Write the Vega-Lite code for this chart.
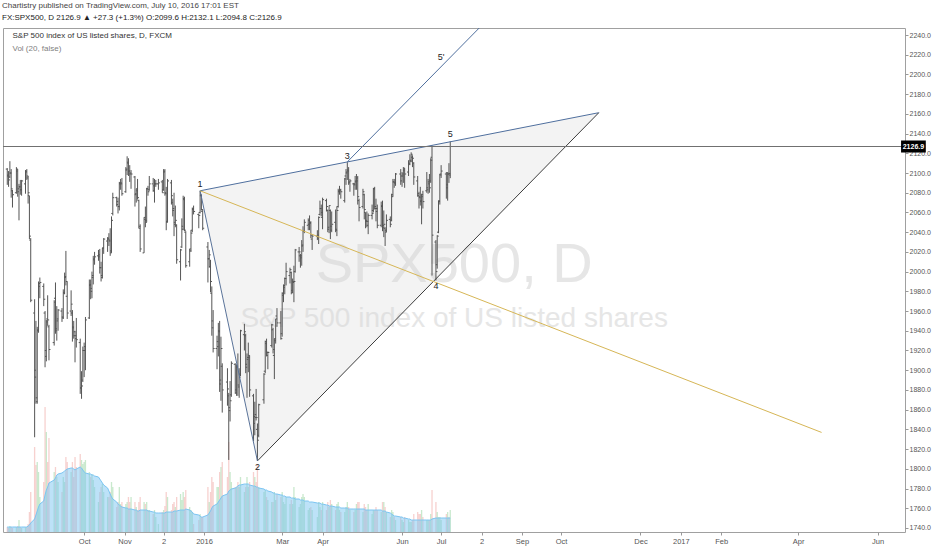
{
  "$schema": "https://vega.github.io/schema/vega-lite/v6.json",
  "width": 902,
  "height": 504,
  "autosize": {"type": "none"},
  "padding": {"left": 3, "top": 28, "right": 27, "bottom": 18},
  "background": "white",
  "config": {
    "font": "Liberation Sans, sans-serif",
    "view": {"stroke": "#a0a0a0", "strokeWidth": 1, "fill": "white"},
    "axis": {"labelOverlap": false, "labelFlush": false, "grid": false, "domain": false, "labelBound": false, "labelSeparation": 0}
  },
  "title": {
    "text": "Chartistry published on TradingView.com, July 10, 2016 17:01 EST",
    "subtitle": "FX:SPX500, D  2126.9 ▲ +27.3 (+1.3%)  O:2099.6  H:2132.1  L:2094.8  C:2126.9",
    "anchor": "start",
    "frame": "group",
    "dx": -1,
    "fontSize": 8,
    "fontWeight": "normal",
    "color": "#444",
    "subtitleFontSize": 8,
    "subtitleColor": "#222",
    "subtitlePadding": 4,
    "offset": 6
  },
  "datasets": {
    "bars": [
      {"d":"2015-08-03","o":2104,"h":2105,"l":2088,"c":2098,"v":5,"m":5},
      {"d":"2015-08-04","o":2097,"h":2102,"l":2086,"c":2093,"v":4,"m":5},
      {"d":"2015-08-05","o":2096,"h":2112,"l":2095,"c":2100,"v":6,"m":5},
      {"d":"2015-08-06","o":2100,"h":2104,"l":2075,"c":2084,"v":5,"m":5},
      {"d":"2015-08-07","o":2082,"h":2083,"l":2065,"c":2078,"v":4,"m":5},
      {"d":"2015-08-10","o":2080,"h":2106,"l":2079,"c":2104,"v":5,"m":5},
      {"d":"2015-08-11","o":2102,"h":2104,"l":2076,"c":2084,"v":6,"m":5},
      {"d":"2015-08-12","o":2081,"h":2089,"l":2052,"c":2086,"v":12,"m":5},
      {"d":"2015-08-13","o":2086,"h":2093,"l":2078,"c":2083,"v":5,"m":5},
      {"d":"2015-08-14","o":2083,"h":2093,"l":2077,"c":2092,"v":4,"m":5},
      {"d":"2015-08-17","o":2089,"h":2103,"l":2079,"c":2102,"v":5,"m":5},
      {"d":"2015-08-18","o":2101,"h":2104,"l":2093,"c":2097,"v":5,"m":5},
      {"d":"2015-08-19","o":2095,"h":2097,"l":2069,"c":2080,"v":8,"m":6},
      {"d":"2015-08-20","o":2077,"h":2077,"l":2033,"c":2036,"v":20,"m":7},
      {"d":"2015-08-21","o":2032,"h":2034,"l":1969,"c":1971,"v":40,"m":9},
      {"d":"2015-08-24","o":1958,"h":1972,"l":1832,"c":1893,"v":85,"m":13},
      {"d":"2015-08-25","o":1900,"h":1950,"l":1866,"c":1868,"v":67,"m":17},
      {"d":"2015-08-26","o":1872,"h":1944,"l":1866,"c":1941,"v":70,"m":21},
      {"d":"2015-08-27","o":1940,"h":1990,"l":1938,"c":1988,"v":60,"m":25},
      {"d":"2015-08-28","o":1985,"h":1994,"l":1973,"c":1989,"v":35,"m":28},
      {"d":"2015-08-31","o":1985,"h":1988,"l":1965,"c":1972,"v":50,"m":31},
      {"d":"2015-09-01","o":1958,"h":1960,"l":1903,"c":1914,"v":125,"m":37},
      {"d":"2015-09-02","o":1920,"h":1951,"l":1909,"c":1949,"v":100,"m":42},
      {"d":"2015-09-03","o":1952,"h":1976,"l":1945,"c":1951,"v":70,"m":45},
      {"d":"2015-09-04","o":1944,"h":1946,"l":1910,"c":1921,"v":94,"m":49},
      {"d":"2015-09-08","o":1928,"h":1971,"l":1925,"c":1969,"v":60,"m":52},
      {"d":"2015-09-09","o":1973,"h":1989,"l":1937,"c":1942,"v":65,"m":54},
      {"d":"2015-09-10","o":1940,"h":1965,"l":1930,"c":1952,"v":55,"m":57},
      {"d":"2015-09-11","o":1950,"h":1962,"l":1940,"c":1961,"v":50,"m":58},
      {"d":"2015-09-14","o":1960,"h":1963,"l":1949,"c":1953,"v":40,"m":59},
      {"d":"2015-09-15","o":1954,"h":1982,"l":1952,"c":1978,"v":55,"m":60},
      {"d":"2015-09-16","o":1979,"h":1999,"l":1977,"c":1995,"v":50,"m":61},
      {"d":"2015-09-17","o":1994,"h":2021,"l":1986,"c":1990,"v":75,"m":62},
      {"d":"2015-09-18","o":1975,"h":1990,"l":1952,"c":1958,"v":70,"m":63},
      {"d":"2015-09-21","o":1960,"h":1981,"l":1955,"c":1967,"v":60,"m":64},
      {"d":"2015-09-22","o":1958,"h":1961,"l":1929,"c":1943,"v":70,"m":64},
      {"d":"2015-09-23","o":1944,"h":1950,"l":1932,"c":1939,"v":55,"m":63},
      {"d":"2015-09-24","o":1935,"h":1940,"l":1908,"c":1932,"v":75,"m":62},
      {"d":"2015-09-25","o":1935,"h":1953,"l":1923,"c":1931,"v":65,"m":63},
      {"d":"2015-09-28","o":1928,"h":1932,"l":1876,"c":1882,"v":78,"m":65},
      {"d":"2015-09-29","o":1882,"h":1899,"l":1871,"c":1884,"v":72,"m":64},
      {"d":"2015-09-30","o":1890,"h":1924,"l":1888,"c":1920,"v":68,"m":62},
      {"d":"2015-10-01","o":1920,"h":1928,"l":1893,"c":1924,"v":70,"m":60},
      {"d":"2015-10-02","o":1920,"h":1954,"l":1900,"c":1951,"v":72,"m":59},
      {"d":"2015-10-05","o":1953,"h":1992,"l":1952,"c":1987,"v":60,"m":58},
      {"d":"2015-10-06","o":1986,"h":1992,"l":1972,"c":1980,"v":55,"m":58},
      {"d":"2015-10-07","o":1983,"h":2000,"l":1973,"c":1996,"v":58,"m":57},
      {"d":"2015-10-08","o":1994,"h":2016,"l":1987,"c":2013,"v":52,"m":57},
      {"d":"2015-10-09","o":2012,"h":2020,"l":2007,"c":2015,"v":45,"m":56},
      {"d":"2015-10-12","o":2016,"h":2022,"l":2011,"c":2017,"v":30,"m":55},
      {"d":"2015-10-13","o":2015,"h":2023,"l":1998,"c":2004,"v":40,"m":53},
      {"d":"2015-10-14","o":2004,"h":2010,"l":1990,"c":1994,"v":45,"m":51},
      {"d":"2015-10-15","o":1996,"h":2024,"l":1993,"c":2024,"v":48,"m":49},
      {"d":"2015-10-16","o":2024,"h":2034,"l":2018,"c":2033,"v":40,"m":47},
      {"d":"2015-10-19","o":2031,"h":2035,"l":2020,"c":2034,"v":35,"m":44},
      {"d":"2015-10-20","o":2033,"h":2039,"l":2026,"c":2031,"v":35,"m":41},
      {"d":"2015-10-21","o":2032,"h":2044,"l":2016,"c":2019,"v":40,"m":38},
      {"d":"2015-10-22","o":2021,"h":2056,"l":2019,"c":2052,"v":50,"m":35},
      {"d":"2015-10-23","o":2059,"h":2080,"l":2057,"c":2075,"v":45,"m":33},
      {"d":"2015-10-26","o":2075,"h":2076,"l":2066,"c":2071,"v":25,"m":30},
      {"d":"2015-10-27","o":2068,"h":2075,"l":2059,"c":2066,"v":30,"m":28},
      {"d":"2015-10-28","o":2066,"h":2091,"l":2062,"c":2090,"v":45,"m":27},
      {"d":"2015-10-29","o":2089,"h":2094,"l":2083,"c":2089,"v":28,"m":26},
      {"d":"2015-10-30","o":2090,"h":2095,"l":2077,"c":2079,"v":30,"m":25},
      {"d":"2015-11-02","o":2081,"h":2106,"l":2080,"c":2104,"v":28,"m":24},
      {"d":"2015-11-03","o":2103,"h":2117,"l":2098,"c":2110,"v":30,"m":24},
      {"d":"2015-11-04","o":2111,"h":2115,"l":2097,"c":2102,"v":35,"m":23},
      {"d":"2015-11-05","o":2102,"h":2108,"l":2091,"c":2100,"v":30,"m":23},
      {"d":"2015-11-06","o":2099,"h":2103,"l":2084,"c":2099,"v":35,"m":23},
      {"d":"2015-11-09","o":2096,"h":2097,"l":2066,"c":2079,"v":30,"m":22},
      {"d":"2015-11-10","o":2078,"h":2084,"l":2070,"c":2082,"v":25,"m":22},
      {"d":"2015-11-11","o":2084,"h":2094,"l":2073,"c":2075,"v":22,"m":21},
      {"d":"2015-11-12","o":2072,"h":2073,"l":2044,"c":2046,"v":30,"m":21},
      {"d":"2015-11-13","o":2044,"h":2048,"l":2020,"c":2023,"v":35,"m":22},
      {"d":"2015-11-16","o":2019,"h":2055,"l":2019,"c":2053,"v":30,"m":22},
      {"d":"2015-11-17","o":2055,"h":2066,"l":2045,"c":2050,"v":28,"m":22},
      {"d":"2015-11-18","o":2052,"h":2085,"l":2050,"c":2084,"v":30,"m":22},
      {"d":"2015-11-19","o":2084,"h":2087,"l":2077,"c":2081,"v":22,"m":21},
      {"d":"2015-11-20","o":2083,"h":2097,"l":2082,"c":2089,"v":22,"m":21},
      {"d":"2015-11-23","o":2089,"h":2095,"l":2081,"c":2087,"v":18,"m":20},
      {"d":"2015-11-24","o":2082,"h":2094,"l":2070,"c":2089,"v":22,"m":20},
      {"d":"2015-11-25","o":2089,"h":2093,"l":2086,"c":2089,"v":15,"m":19},
      {"d":"2015-11-27","o":2089,"h":2094,"l":2083,"c":2090,"v":8,"m":19},
      {"d":"2015-11-30","o":2091,"h":2093,"l":2080,"c":2080,"v":20,"m":19},
      {"d":"2015-12-01","o":2083,"h":2104,"l":2082,"c":2102,"v":22,"m":19},
      {"d":"2015-12-02","o":2101,"h":2104,"l":2077,"c":2079,"v":26,"m":19},
      {"d":"2015-12-03","o":2080,"h":2086,"l":2042,"c":2050,"v":40,"m":20},
      {"d":"2015-12-04","o":2051,"h":2094,"l":2050,"c":2092,"v":35,"m":20},
      {"d":"2015-12-07","o":2090,"h":2093,"l":2068,"c":2077,"v":22,"m":20},
      {"d":"2015-12-08","o":2070,"h":2074,"l":2056,"c":2064,"v":28,"m":20},
      {"d":"2015-12-09","o":2062,"h":2080,"l":2036,"c":2048,"v":30,"m":21},
      {"d":"2015-12-10","o":2050,"h":2067,"l":2045,"c":2052,"v":25,"m":21},
      {"d":"2015-12-11","o":2047,"h":2048,"l":2008,"c":2012,"v":35,"m":21},
      {"d":"2015-12-14","o":2010,"h":2023,"l":1991,"c":2022,"v":38,"m":22},
      {"d":"2015-12-15","o":2025,"h":2054,"l":2024,"c":2043,"v":32,"m":22},
      {"d":"2015-12-16","o":2046,"h":2077,"l":2042,"c":2073,"v":40,"m":22},
      {"d":"2015-12-17","o":2074,"h":2076,"l":2041,"c":2042,"v":35,"m":22},
      {"d":"2015-12-18","o":2040,"h":2041,"l":2004,"c":2006,"v":42,"m":23},
      {"d":"2015-12-21","o":2010,"h":2023,"l":2005,"c":2021,"v":25,"m":22},
      {"d":"2015-12-22","o":2023,"h":2042,"l":2020,"c":2039,"v":22,"m":21},
      {"d":"2015-12-23","o":2042,"h":2065,"l":2040,"c":2064,"v":20,"m":20},
      {"d":"2015-12-24","o":2063,"h":2067,"l":2058,"c":2061,"v":8,"m":18},
      {"d":"2015-12-28","o":2058,"h":2059,"l":2044,"c":2057,"v":12,"m":17},
      {"d":"2015-12-29","o":2060,"h":2082,"l":2059,"c":2078,"v":18,"m":16},
      {"d":"2015-12-30","o":2077,"h":2078,"l":2062,"c":2063,"v":15,"m":15},
      {"d":"2015-12-31","o":2061,"h":2063,"l":2042,"c":2044,"v":15,"m":15},
      {"d":"2016-01-04","o":2025,"h":2030,"l":1989,"c":2013,"v":45,"m":17},
      {"d":"2016-01-05","o":2013,"h":2022,"l":2004,"c":2017,"v":30,"m":19},
      {"d":"2016-01-06","o":2005,"h":2012,"l":1979,"c":1990,"v":40,"m":21},
      {"d":"2016-01-07","o":1978,"h":1985,"l":1935,"c":1943,"v":55,"m":24},
      {"d":"2016-01-08","o":1950,"h":1961,"l":1918,"c":1922,"v":50,"m":26},
      {"d":"2016-01-11","o":1922,"h":1935,"l":1901,"c":1924,"v":45,"m":28},
      {"d":"2016-01-12","o":1929,"h":1948,"l":1914,"c":1939,"v":45,"m":30},
      {"d":"2016-01-13","o":1940,"h":1950,"l":1878,"c":1890,"v":60,"m":32},
      {"d":"2016-01-14","o":1886,"h":1934,"l":1869,"c":1922,"v":65,"m":34},
      {"d":"2016-01-15","o":1904,"h":1907,"l":1857,"c":1880,"v":70,"m":36},
      {"d":"2016-01-19","o":1888,"h":1902,"l":1864,"c":1881,"v":55,"m":38},
      {"d":"2016-01-20","o":1874,"h":1877,"l":1809,"c":1859,"v":90,"m":41},
      {"d":"2016-01-21","o":1862,"h":1889,"l":1848,"c":1869,"v":60,"m":42},
      {"d":"2016-01-22","o":1875,"h":1909,"l":1873,"c":1907,"v":50,"m":43},
      {"d":"2016-01-25","o":1906,"h":1907,"l":1876,"c":1877,"v":45,"m":44},
      {"d":"2016-01-26","o":1880,"h":1906,"l":1874,"c":1904,"v":45,"m":45},
      {"d":"2016-01-27","o":1903,"h":1917,"l":1874,"c":1883,"v":50,"m":46},
      {"d":"2016-01-28","o":1885,"h":1902,"l":1872,"c":1893,"v":45,"m":47},
      {"d":"2016-01-29","o":1896,"h":1941,"l":1894,"c":1940,"v":55,"m":47},
      {"d":"2016-02-01","o":1936,"h":1947,"l":1920,"c":1939,"v":40,"m":48},
      {"d":"2016-02-02","o":1935,"h":1937,"l":1897,"c":1903,"v":45,"m":48},
      {"d":"2016-02-03","o":1906,"h":1917,"l":1872,"c":1913,"v":55,"m":48},
      {"d":"2016-02-04","o":1911,"h":1928,"l":1898,"c":1915,"v":45,"m":48},
      {"d":"2016-02-05","o":1913,"h":1915,"l":1873,"c":1880,"v":50,"m":47},
      {"d":"2016-02-08","o":1874,"h":1876,"l":1828,"c":1853,"v":60,"m":46},
      {"d":"2016-02-09","o":1846,"h":1868,"l":1834,"c":1852,"v":55,"m":46},
      {"d":"2016-02-10","o":1855,"h":1881,"l":1849,"c":1852,"v":50,"m":45},
      {"d":"2016-02-11","o":1840,"h":1846,"l":1808,"c":1829,"v":68,"m":45},
      {"d":"2016-02-12","o":1834,"h":1866,"l":1832,"c":1865,"v":45,"m":44},
      {"d":"2016-02-16","o":1870,"h":1897,"l":1866,"c":1896,"v":40,"m":43},
      {"d":"2016-02-17","o":1899,"h":1930,"l":1897,"c":1927,"v":42,"m":42},
      {"d":"2016-02-18","o":1929,"h":1932,"l":1914,"c":1918,"v":35,"m":42},
      {"d":"2016-02-19","o":1915,"h":1919,"l":1901,"c":1918,"v":32,"m":41},
      {"d":"2016-02-22","o":1925,"h":1947,"l":1923,"c":1946,"v":30,"m":40},
      {"d":"2016-02-23","o":1941,"h":1943,"l":1917,"c":1921,"v":30,"m":39},
      {"d":"2016-02-24","o":1915,"h":1932,"l":1891,"c":1930,"v":40,"m":39},
      {"d":"2016-02-25","o":1932,"h":1952,"l":1927,"c":1952,"v":32,"m":38},
      {"d":"2016-02-26","o":1955,"h":1963,"l":1944,"c":1948,"v":38,"m":38},
      {"d":"2016-02-29","o":1948,"h":1960,"l":1931,"c":1932,"v":35,"m":37},
      {"d":"2016-03-01","o":1937,"h":1979,"l":1934,"c":1978,"v":40,"m":37},
      {"d":"2016-03-02","o":1976,"h":1987,"l":1969,"c":1986,"v":30,"m":36},
      {"d":"2016-03-03","o":1984,"h":1994,"l":1977,"c":1993,"v":28,"m":36},
      {"d":"2016-03-04","o":1993,"h":2009,"l":1986,"c":2000,"v":35,"m":35},
      {"d":"2016-03-07","o":1996,"h":2004,"l":1988,"c":2002,"v":28,"m":35},
      {"d":"2016-03-08","o":1999,"h":2000,"l":1977,"c":1979,"v":32,"m":34},
      {"d":"2016-03-09","o":1981,"h":1993,"l":1978,"c":1989,"v":28,"m":34},
      {"d":"2016-03-10","o":1990,"h":2006,"l":1969,"c":1990,"v":45,"m":34},
      {"d":"2016-03-11","o":2000,"h":2023,"l":1999,"c":2022,"v":35,"m":33},
      {"d":"2016-03-14","o":2020,"h":2025,"l":2010,"c":2020,"v":25,"m":33},
      {"d":"2016-03-15","o":2016,"h":2018,"l":2004,"c":2016,"v":28,"m":32},
      {"d":"2016-03-16","o":2014,"h":2032,"l":2006,"c":2027,"v":35,"m":32},
      {"d":"2016-03-17","o":2026,"h":2046,"l":2020,"c":2041,"v":38,"m":32},
      {"d":"2016-03-18","o":2041,"h":2053,"l":2039,"c":2050,"v":35,"m":31},
      {"d":"2016-03-21","o":2047,"h":2054,"l":2042,"c":2052,"v":22,"m":31},
      {"d":"2016-03-22","o":2048,"h":2057,"l":2042,"c":2050,"v":24,"m":30},
      {"d":"2016-03-23","o":2049,"h":2051,"l":2034,"c":2037,"v":25,"m":30},
      {"d":"2016-03-24","o":2033,"h":2037,"l":2022,"c":2036,"v":22,"m":30},
      {"d":"2016-03-28","o":2036,"h":2042,"l":2032,"c":2037,"v":15,"m":29},
      {"d":"2016-03-29","o":2034,"h":2056,"l":2028,"c":2055,"v":30,"m":29},
      {"d":"2016-03-30","o":2058,"h":2072,"l":2057,"c":2064,"v":25,"m":29},
      {"d":"2016-03-31","o":2064,"h":2068,"l":2056,"c":2060,"v":22,"m":28},
      {"d":"2016-04-01","o":2055,"h":2075,"l":2043,"c":2073,"v":30,"m":28},
      {"d":"2016-04-04","o":2072,"h":2074,"l":2061,"c":2066,"v":22,"m":27},
      {"d":"2016-04-05","o":2062,"h":2063,"l":2040,"c":2045,"v":30,"m":27},
      {"d":"2016-04-06","o":2043,"h":2067,"l":2039,"c":2067,"v":25,"m":26},
      {"d":"2016-04-07","o":2062,"h":2063,"l":2033,"c":2042,"v":32,"m":26},
      {"d":"2016-04-08","o":2046,"h":2061,"l":2040,"c":2048,"v":28,"m":26},
      {"d":"2016-04-11","o":2050,"h":2063,"l":2040,"c":2042,"v":22,"m":25},
      {"d":"2016-04-12","o":2043,"h":2066,"l":2036,"c":2062,"v":28,"m":25},
      {"d":"2016-04-13","o":2066,"h":2084,"l":2065,"c":2082,"v":30,"m":25},
      {"d":"2016-04-14","o":2081,"h":2087,"l":2078,"c":2083,"v":22,"m":25},
      {"d":"2016-04-15","o":2082,"h":2084,"l":2074,"c":2081,"v":20,"m":24},
      {"d":"2016-04-18","o":2072,"h":2095,"l":2070,"c":2094,"v":20,"m":24},
      {"d":"2016-04-19","o":2097,"h":2104,"l":2088,"c":2101,"v":25,"m":24},
      {"d":"2016-04-20","o":2100,"h":2111,"l":2093,"c":2102,"v":30,"m":24},
      {"d":"2016-04-21","o":2103,"h":2106,"l":2088,"c":2091,"v":25,"m":23},
      {"d":"2016-04-22","o":2090,"h":2094,"l":2081,"c":2092,"v":22,"m":23},
      {"d":"2016-04-25","o":2089,"h":2090,"l":2077,"c":2088,"v":20,"m":23},
      {"d":"2016-04-26","o":2089,"h":2097,"l":2083,"c":2092,"v":22,"m":23},
      {"d":"2016-04-27","o":2091,"h":2099,"l":2083,"c":2095,"v":28,"m":23},
      {"d":"2016-04-28","o":2092,"h":2097,"l":2068,"c":2076,"v":30,"m":23},
      {"d":"2016-04-29","o":2072,"h":2074,"l":2051,"c":2065,"v":30,"m":23},
      {"d":"2016-05-02","o":2066,"h":2084,"l":2064,"c":2081,"v":20,"m":23},
      {"d":"2016-05-03","o":2078,"h":2079,"l":2053,"c":2063,"v":28,"m":23},
      {"d":"2016-05-04","o":2060,"h":2060,"l":2044,"c":2051,"v":25,"m":22},
      {"d":"2016-05-05","o":2052,"h":2061,"l":2045,"c":2051,"v":22,"m":22},
      {"d":"2016-05-06","o":2047,"h":2059,"l":2038,"c":2057,"v":28,"m":22},
      {"d":"2016-05-09","o":2057,"h":2068,"l":2053,"c":2059,"v":18,"m":22},
      {"d":"2016-05-10","o":2062,"h":2085,"l":2060,"c":2084,"v":22,"m":22},
      {"d":"2016-05-11","o":2084,"h":2086,"l":2063,"c":2064,"v":22,"m":22},
      {"d":"2016-05-12","o":2066,"h":2074,"l":2051,"c":2064,"v":25,"m":22},
      {"d":"2016-05-13","o":2061,"h":2068,"l":2044,"c":2047,"v":22,"m":22},
      {"d":"2016-05-16","o":2047,"h":2071,"l":2045,"c":2067,"v":20,"m":22},
      {"d":"2016-05-17","o":2066,"h":2072,"l":2041,"c":2047,"v":30,"m":21},
      {"d":"2016-05-18","o":2045,"h":2062,"l":2035,"c":2048,"v":30,"m":21},
      {"d":"2016-05-19","o":2044,"h":2045,"l":2026,"c":2040,"v":25,"m":21},
      {"d":"2016-05-20","o":2042,"h":2058,"l":2040,"c":2052,"v":20,"m":20},
      {"d":"2016-05-23","o":2053,"h":2056,"l":2045,"c":2048,"v":15,"m":19},
      {"d":"2016-05-24","o":2052,"h":2079,"l":2051,"c":2076,"v":22,"m":18},
      {"d":"2016-05-25","o":2078,"h":2094,"l":2076,"c":2091,"v":20,"m":17},
      {"d":"2016-05-26","o":2091,"h":2094,"l":2085,"c":2090,"v":15,"m":16},
      {"d":"2016-05-27","o":2090,"h":2100,"l":2087,"c":2099,"v":12,"m":16},
      {"d":"2016-05-31","o":2099,"h":2104,"l":2088,"c":2097,"v":15,"m":15},
      {"d":"2016-06-01","o":2092,"h":2101,"l":2086,"c":2099,"v":12,"m":15},
      {"d":"2016-06-02","o":2097,"h":2106,"l":2090,"c":2105,"v":10,"m":14},
      {"d":"2016-06-03","o":2103,"h":2105,"l":2085,"c":2099,"v":15,"m":14},
      {"d":"2016-06-06","o":2101,"h":2113,"l":2097,"c":2109,"v":12,"m":13},
      {"d":"2016-06-07","o":2110,"h":2119,"l":2108,"c":2112,"v":10,"m":13},
      {"d":"2016-06-08","o":2113,"h":2121,"l":2111,"c":2119,"v":10,"m":12},
      {"d":"2016-06-09","o":2116,"h":2118,"l":2106,"c":2115,"v":12,"m":12},
      {"d":"2016-06-10","o":2110,"h":2111,"l":2088,"c":2096,"v":18,"m":12},
      {"d":"2016-06-13","o":2092,"h":2097,"l":2076,"c":2079,"v":20,"m":12},
      {"d":"2016-06-14","o":2077,"h":2081,"l":2064,"c":2075,"v":18,"m":12},
      {"d":"2016-06-15","o":2076,"h":2086,"l":2067,"c":2072,"v":18,"m":12},
      {"d":"2016-06-16","o":2071,"h":2079,"l":2048,"c":2078,"v":22,"m":12},
      {"d":"2016-06-17","o":2076,"h":2082,"l":2064,"c":2071,"v":15,"m":12},
      {"d":"2016-06-20","o":2082,"h":2101,"l":2080,"c":2083,"v":12,"m":12},
      {"d":"2016-06-21","o":2085,"h":2094,"l":2079,"c":2089,"v":12,"m":12},
      {"d":"2016-06-22","o":2091,"h":2099,"l":2080,"c":2085,"v":12,"m":12},
      {"d":"2016-06-23","o":2092,"h":2115,"l":2090,"c":2113,"v":18,"m":12},
      {"d":"2016-06-24","o":2116,"h":2128,"l":1996,"c":2037,"v":42,"m":13},
      {"d":"2016-06-27","o":2030,"h":2032,"l":1991,"c":2000,"v":30,"m":14},
      {"d":"2016-06-28","o":2007,"h":2037,"l":2003,"c":2036,"v":20,"m":14},
      {"d":"2016-06-29","o":2040,"h":2072,"l":2039,"c":2071,"v":15,"m":14},
      {"d":"2016-06-30","o":2072,"h":2099,"l":2068,"c":2098,"v":15,"m":14},
      {"d":"2016-07-01","o":2099,"h":2108,"l":2095,"c":2102,"v":12,"m":14},
      {"d":"2016-07-05","o":2099,"h":2101,"l":2074,"c":2088,"v":18,"m":14},
      {"d":"2016-07-06","o":2085,"h":2101,"l":2072,"c":2099,"v":20,"m":14},
      {"d":"2016-07-07","o":2099,"h":2110,"l":2090,"c":2098,"v":15,"m":14},
      {"d":"2016-07-08","o":2099.6,"h":2132.1,"l":2094.8,"c":2126.9,"v":22,"m":14}
    ],
    "tri": [
      {"d":"2015-12-29","hi":2082,"lo":2082},
      {"d":"2016-02-11","hi":2093.4,"lo":1808},
      {"d":"2016-10-30","hi":2161.2,"lo":2161.2}
    ],
    "segs": [
      {"id":"upper","d":"2015-12-29","p":2082},
      {"id":"upper","d":"2016-10-30","p":2161.2},
      {"id":"lower","d":"2016-02-11","p":1808},
      {"id":"lower","d":"2016-10-30","p":2161.2},
      {"id":"leg","d":"2015-12-29","p":2082},
      {"id":"leg","d":"2016-02-11","p":1808},
      {"id":"yellow","d":"2015-12-29","p":2082},
      {"id":"yellow","d":"2017-04-19","p":1836.9}
    ],
    "five": [
      {"d":"2016-04-20","p":2111.3},
      {"d":"2016-08-06","p":2256.2}
    ],
    "above": [
      {"d":"2015-12-29","p":2082,"t":"1"},
      {"d":"2016-04-20","p":2110,"t":"3"},
      {"d":"2016-07-08","p":2132.1,"t":"5"},
      {"d":"2016-07-01","p":2211,"t":"5'"}
    ],
    "below": [
      {"d":"2016-02-11","p":1808,"t":"2"},
      {"d":"2016-06-27","p":1991,"t":"4"}
    ]
  },
  "layer": [
    {
      "layer": [
        {
          "data": {"values": [{"d":"2016-07-11","p":1989.5,"t":"SPX500, D"}]},
          "mark": {"type": "text", "fontSize": 56, "color": "#e6e6e6", "align": "center", "baseline": "alphabetic"},
          "encoding": {
            "x": {"field":"d","type":"temporal","scale":{"type":"utc","domain":[{"year":2015,"month":8,"date":3,"hours":13,"minutes":25,"utc":true},{"year":2017,"month":6,"date":18,"hours":4,"minutes":34,"utc":true}]},
              "axis":{"values":[
                {"year":2015,"month":10,"date":1,"utc":true},{"year":2015,"month":11,"date":1,"utc":true},{"year":2015,"month":12,"date":1,"utc":true},
                {"year":2016,"month":1,"date":1,"utc":true},{"year":2016,"month":3,"date":1,"utc":true},{"year":2016,"month":4,"date":1,"utc":true},
                {"year":2016,"month":6,"date":1,"utc":true},{"year":2016,"month":7,"date":1,"utc":true},{"year":2016,"month":8,"date":1,"utc":true},
                {"year":2016,"month":9,"date":1,"utc":true},{"year":2016,"month":10,"date":1,"utc":true},{"year":2016,"month":12,"date":1,"utc":true},
                {"year":2017,"month":1,"date":1,"utc":true},{"year":2017,"month":2,"date":1,"utc":true},{"year":2017,"month":4,"date":1,"utc":true},
                {"year":2017,"month":6,"date":1,"utc":true}],
                "labelExpr": "utcmonth(datum.value) == 0 ? '' + utcyear(datum.value) : ((utcmonth(datum.value) == 11 && utcyear(datum.value) == 2015) || (utcmonth(datum.value) == 7 && utcyear(datum.value) == 2016)) ? '2' : utcFormat(datum.value, '%b')",
                "labelFontSize": 7.5, "labelColor": "#555", "tickColor": "#999", "tickSize": 3, "labelPadding": 2},
              "title":null},
            "y": {"field":"p","type":"quantitative","scale":{"domain":[1735.9,2247.1],"nice":false,"zero":false},"axis":null,"title":null},
            "text": {"field":"t"}
          }
        },
        {
          "data": {"values": [{"d":"2016-07-11","p":1944,"t":"S&P 500 index of US listed shares"}]},
          "mark": {"type": "text", "fontSize": 28, "color": "#e6e6e6", "align": "center", "baseline": "alphabetic"},
          "encoding": {
            "x": {"field":"d","type":"temporal","title":null},
            "y": {"field":"p","type":"quantitative","axis":null,"title":null},
            "text": {"field":"t"}
          }
        },
        {
          "data": {"name": "tri"},
          "mark": {"type": "area", "color": "#d8d8d8", "opacity": 0.3},
          "encoding": {
            "x": {"field":"d","type":"temporal","title":null},
            "y": {"field":"hi","type":"quantitative","axis":null,"title":null},
            "y2": {"field":"lo"}
          }
        }
      ]
    },
    {
      "layer": [
        {
          "data": {"name": "bars"},
          "mark": {"type": "bar", "width": 1.3, "opacity": 0.5},
          "encoding": {
            "x": {"field":"d","type":"temporal","title":null},
            "y": {"field":"v","type":"quantitative","scale":{"domain":[0,504],"nice":false},"axis":null,"title":null},
            "color": {"condition": {"test": "datum.c >= datum.o", "value": "#93d39b"}, "value": "#f0a3a0"}
          }
        },
        {
          "data": {"name": "bars"},
          "mark": {"type": "area", "color": "#7cc5f2", "opacity": 0.5, "line": {"color": "#7cc5f2", "strokeWidth": 1}},
          "encoding": {
            "x": {"field":"d","type":"temporal","title":null},
            "y": {"field":"m","type":"quantitative","axis":null,"title":null}
          }
        }
      ]
    },
    {
      "layer": [
        {
          "data": {"name": "bars"},
          "mark": {"type": "rule", "color": "#555555", "strokeWidth": 1},
          "encoding": {
            "x": {"field":"d","type":"temporal","title":null},
            "y": {"field":"l","type":"quantitative","scale":{"domain":[1735.9,2247.1],"nice":false,"zero":false},"axis":null,"title":null},
            "y2": {"field":"h"}
          }
        },
        {
          "data": {"name": "bars"},
          "mark": {"type": "rule", "color": "#555555", "strokeWidth": 1, "xOffset": -1.5, "x2Offset": 0},
          "encoding": {
            "x": {"field":"d","type":"temporal","title":null},
            "x2": {"field":"d"},
            "y": {"field":"o","type":"quantitative","axis":null,"title":null}
          }
        },
        {
          "data": {"name": "bars"},
          "mark": {"type": "rule", "color": "#555555", "strokeWidth": 1, "xOffset": 0, "x2Offset": 1.5},
          "encoding": {
            "x": {"field":"d","type":"temporal","title":null},
            "x2": {"field":"d"},
            "y": {"field":"c","type":"quantitative","axis":null,"title":null}
          }
        },
        {
          "data": {"name": "segs"},
          "mark": {"type": "line", "strokeWidth": 1},
          "encoding": {
            "x": {"field":"d","type":"temporal","title":null},
            "y": {"field":"p","type":"quantitative","axis":null,"title":null},
            "detail": {"field":"id"},
            "color": {"field":"id","type":"nominal","scale":{"domain":["upper","lower","leg","yellow"],"range":["#4f6f9e","#3c3c3c","#5a7399","#d6b656"]},"legend":null}
          }
        },
        {
          "data": {"name": "five"},
          "mark": {"type": "line", "strokeWidth": 1, "color": "#4f6f9e", "clip": true},
          "encoding": {
            "x": {"field":"d","type":"temporal","title":null},
            "y": {"field":"p","type":"quantitative","axis":null,"title":null}
          }
        },
        {
          "data": {"name": "above"},
          "mark": {"type": "text", "fontSize": 9, "color": "#222", "baseline": "bottom", "dy": -2},
          "encoding": {
            "x": {"field":"d","type":"temporal","title":null},
            "y": {"field":"p","type":"quantitative","axis":null,"title":null},
            "text": {"field":"t"}
          }
        },
        {
          "data": {"name": "below"},
          "mark": {"type": "text", "fontSize": 9, "color": "#222", "baseline": "top", "dy": 2},
          "encoding": {
            "x": {"field":"d","type":"temporal","title":null},
            "y": {"field":"p","type":"quantitative","axis":null,"title":null},
            "text": {"field":"t"}
          }
        },
        {
          "data": {"values": [{"d":"2015-08-07","p":2239,"t":"S&P 500 index of US listed shares, D, FXCM"}]},
          "mark": {"type": "text", "fontSize": 8, "color": "#333", "align": "left", "baseline": "middle"},
          "encoding": {
            "x": {"field":"d","type":"temporal","title":null},
            "y": {"field":"p","type":"quantitative","axis":null,"title":null},
            "text": {"field":"t"}
          }
        },
        {
          "data": {"values": [{"d":"2015-08-07","p":2225.8,"t":"Vol (20, false)"}]},
          "mark": {"type": "text", "fontSize": 8, "color": "#808080", "align": "left", "baseline": "middle"},
          "encoding": {
            "x": {"field":"d","type":"temporal","title":null},
            "y": {"field":"p","type":"quantitative","axis":null,"title":null},
            "text": {"field":"t"}
          }
        }
      ]
    },
    {
      "layer": [
        {
          "data": {"values": [{"p": 2126.9}]},
          "mark": {"type": "rule", "color": "#707070", "strokeWidth": 1},
          "encoding": {
            "y": {"field":"p","type":"quantitative","scale":{"domain":[1735.9,2247.1],"nice":false,"zero":false},
              "axis":{"orient":"right","values":[1740,1760,1780,1800,1820,1840,1860,1880,1900,1920,1940,1960,1980,2000,2020,2040,2060,2080,2100,2120,2140,2160,2180,2200,2220,2240],
                "format":".1f","labelFontSize":7,"labelColor":"#555","tickColor":"#999","tickSize":3,"labelPadding":1,"labelOverlap":false},
              "title":null}
          }
        }
      ]
    },
    {
      "layer": [
        {
          "data": {"values": [{"d":"2017-06-19T00:00:00Z","d2":"2017-07-08T00:00:00Z","p":2120.8,"p2":2133.0}]},
          "mark": {"type": "rect", "color": "#000000"},
          "encoding": {
            "x": {"field":"d","type":"temporal","title":null},
            "x2": {"field":"d2"},
            "y": {"field":"p","type":"quantitative","scale":{"domain":[1735.9,2247.1],"nice":false,"zero":false},"axis":null,"title":null},
            "y2": {"field":"p2"}
          }
        },
        {
          "data": {"values": [{"d":"2017-06-28T12:00:00Z","p":2126.9,"t":"2126.9"}]},
          "mark": {"type": "text", "fontSize": 7, "fontWeight": "bold", "color": "#ffffff", "align": "center", "baseline": "middle"},
          "encoding": {
            "x": {"field":"d","type":"temporal","title":null},
            "y": {"field":"p","type":"quantitative","axis":null,"title":null},
            "text": {"field":"t"}
          }
        }
      ]
    }
  ],
  "resolve": {"scale": {"y": "independent"}}
}
